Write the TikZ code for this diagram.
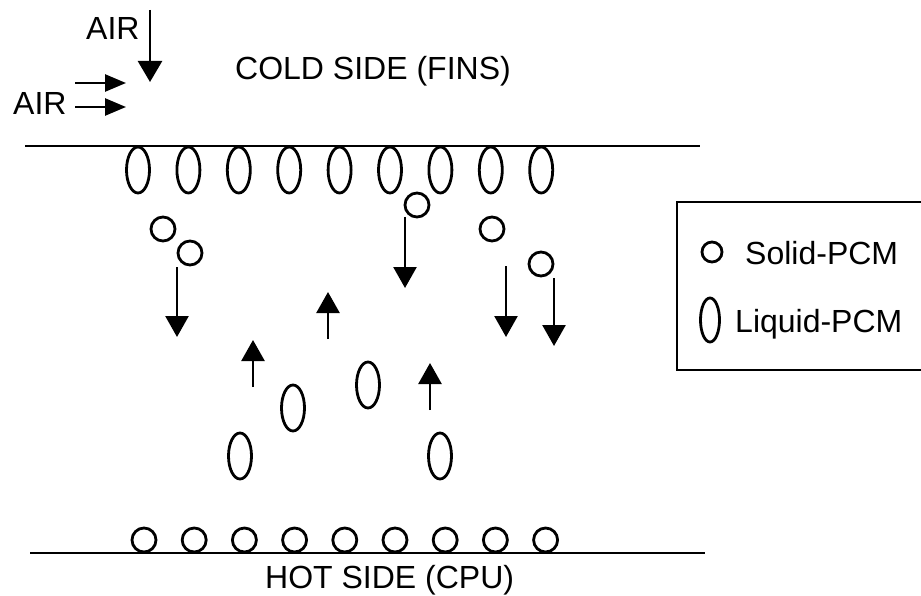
\documentclass[tikz,border=0pt]{standalone}
\usepackage{fontspec}
\setmainfont{Liberation Sans}
\usetikzlibrary{arrows.meta,shapes.geometric}

\begin{document}
\begin{tikzpicture}[x=1pt, y=-1pt,
    label/.style={font=\fontsize{32}{36}\selectfont, inner sep=0pt, anchor=base west},
    solid/.style={circle, draw, line width=2.8pt, minimum size=24pt, inner sep=0pt},
    liquid/.style={ellipse, draw, line width=2.8pt, minimum width=23pt, minimum height=46pt, inner sep=0pt},
    wall/.style={line width=2.8pt},
    arrow/.style={line width=2.6pt, -{Triangle[width=23pt,length=21pt]}},
    airarrow/.style={line width=2.6pt, -{Triangle[width=17pt,length=21pt]}}]

    \useasboundingbox (0,0) rectangle (921,596);

    % air in
    \node[label] (airtop) at (86,40) {AIR};
    \node[label] (airleft) at (13,115) {AIR};
    \coordinate (airdowna) at (150,10);
    \coordinate (airdownb) at (150,82);
    \draw[arrow, -{Triangle[width=24pt,length=21pt]}] (airdowna) -- (airdownb);
    \foreach \i/\y in {1/83, 2/107} {
        \coordinate (air\i a) at (75,\y);
        \coordinate (air\i b) at (126,\y);
        \draw[airarrow] (air\i a) -- (air\i b);
    }
    \node[label] (cold) at (235,80) {COLD SIDE (FINS)};

    % walls
    \coordinate (topa) at (25,146);
    \coordinate (topb) at (700,146);
    \draw[wall] (topa) -- (topb);
    \coordinate (bota) at (30,553);
    \coordinate (botb) at (705,553);
    \draw[wall] (bota) -- (botb);
    \node[label] (hot) at (265,588) {HOT SIDE (CPU)};

    % liquid under the fins, solid on the cpu
    \foreach \i in {0,...,8} {
        \node[liquid] (fin\i) at (138+50.4*\i,170) {};
        \node[solid] (cpu\i) at (144+50.2*\i,540) {};
    }

    % particles in between
    \node[solid] (s1) at (163,229) {};
    \node[solid] (s2) at (190,253) {};
    \node[solid] (s3) at (417,205) {};
    \node[solid] (s4) at (492,229) {};
    \node[solid] (s5) at (541,264) {};
    \node[liquid] (l1) at (293,408) {};
    \node[liquid] (l2) at (368,385) {};
    \node[liquid] (l3) at (240,456) {};
    \node[liquid] (l4) at (440,456) {};

    % sinking solid
    \foreach \i/\x/\ya/\yb in {1/177/267/337, 2/405/217/288, 3/506/266/337, 4/554/278/346} {
        \coordinate (down\i a) at (\x,\ya);
        \coordinate (down\i b) at (\x,\yb);
        \draw[arrow] (down\i a) -- (down\i b);
    }
    % rising liquid
    \foreach \i/\x/\ya/\yb in {1/328/339/292, 2/253/387/340, 3/430/410/363} {
        \coordinate (up\i a) at (\x,\ya);
        \coordinate (up\i b) at (\x,\yb);
        \draw[arrow] (up\i a) -- (up\i b);
    }

    % legend
    \coordinate (keya) at (677,202);
    \coordinate (keyb) at (925,370);
    \draw[line width=2.4pt] (keya) rectangle (keyb);
    \node[solid, minimum size=20pt] (keysolid) at (712,252) {};
    \node[label] (keysolidtext) at (745,265) {Solid-PCM};
    \node[liquid, minimum width=19pt, minimum height=44pt] (keyliquid) at (710,320) {};
    \node[label] (keyliquidtext) at (735,332) {Liquid-PCM};
\end{tikzpicture}
\end{document}
